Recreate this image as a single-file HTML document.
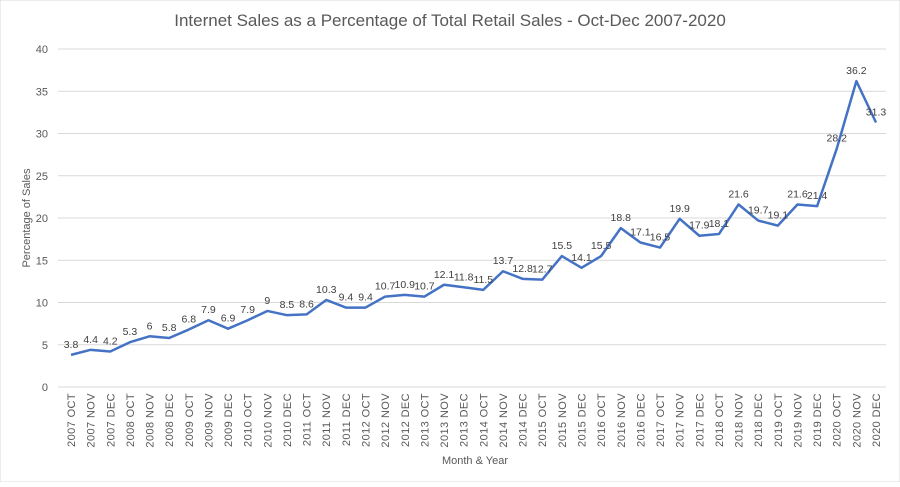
<!DOCTYPE html>
<html><head><meta charset="utf-8"><style>
body{margin:0;background:#fff;font-family:"Liberation Sans",sans-serif;}
svg text{font-family:"Liberation Sans",sans-serif;}
</style></head><body>
<svg id="chart" width="900" height="482" viewBox="0 0 900 482" xmlns="http://www.w3.org/2000/svg">
<rect width="900" height="482" fill="#fff" stroke="#d9d9d9"/>
<text x="450" y="26" text-anchor="middle" font-size="17" fill="#595959">Internet Sales as a Percentage of Total Retail Sales - Oct-Dec 2007-2020</text>
<g id="grid"></g><g id="yticks"></g><g id="xticks"></g><g id="series"></g><g id="labels"></g>
<text x="475" y="464" text-anchor="middle" font-size="11" fill="#595959">Month &amp; Year</text>
<text transform="translate(30,218) rotate(-90)" text-anchor="middle" font-size="11" fill="#595959">Percentage of Sales</text>
</svg>
<script>
const years=[2007,2008,2009,2010,2011,2012,2013,2014,2015,2016,2017,2018,2019,2020];
const months=["OCT","NOV","DEC"];
const values=[3.8,4.4,4.2,5.3,6,5.8,6.8,7.9,6.9,7.9,9,8.5,8.6,10.3,9.4,9.4,10.7,10.9,10.7,12.1,11.8,11.5,13.7,12.8,12.7,15.5,14.1,15.5,18.8,17.1,16.5,19.9,17.9,18.1,21.6,19.7,19.1,21.6,21.4,28.2,36.2,31.3];
const yTicks=[0,5,10,15,20,25,30,35,40];
const categories=[];years.forEach(y=>months.forEach(m=>categories.push(y+" "+m)));
const NS="http://www.w3.org/2000/svg";
const x0=71,x1=876,yB=387,yT=49,yMax=40;
const xs=i=>x0+i*(x1-x0)/(categories.length-1);
const ys=v=>yB-v*(yB-yT)/yMax;
function mk(t,a,p){const e=document.createElementNS(NS,t);for(const k in a)e.setAttribute(k,a[k]);document.getElementById(p).appendChild(e);return e;}
yTicks.forEach(t=>{
 const l=mk("line",{x1:58,x2:886,y1:ys(t),y2:ys(t),stroke:"#d9d9d9","stroke-width":1},"grid");
 
 
 const tx=mk("text",{x:48,y:ys(t)+4,"text-anchor":"end","font-size":11,fill:"#595959"},"yticks");
 tx.textContent=t;
 
 
});
categories.forEach((c,i)=>{
 const tx=mk("text",{transform:`translate(${xs(i)+4},393) rotate(-90)`,"text-anchor":"end","font-size":11,"letter-spacing":0.4,fill:"#595959"},"xticks");
 tx.textContent=c;
 
 
});
const pts=values.map((v,i)=>xs(i)+","+ys(v)).join(" ");
const pl=mk("polyline",{points:pts,fill:"none",stroke:"#4472c4","stroke-width":2.5,"stroke-linejoin":"round"},"series");


values.forEach((v,i)=>{
 const tx=mk("text",{x:xs(i),y:ys(v)-7,"text-anchor":"middle","font-size":10.5,fill:"#404040"},"labels");
 tx.textContent=v;
 
 
});
</script>
</body></html>
